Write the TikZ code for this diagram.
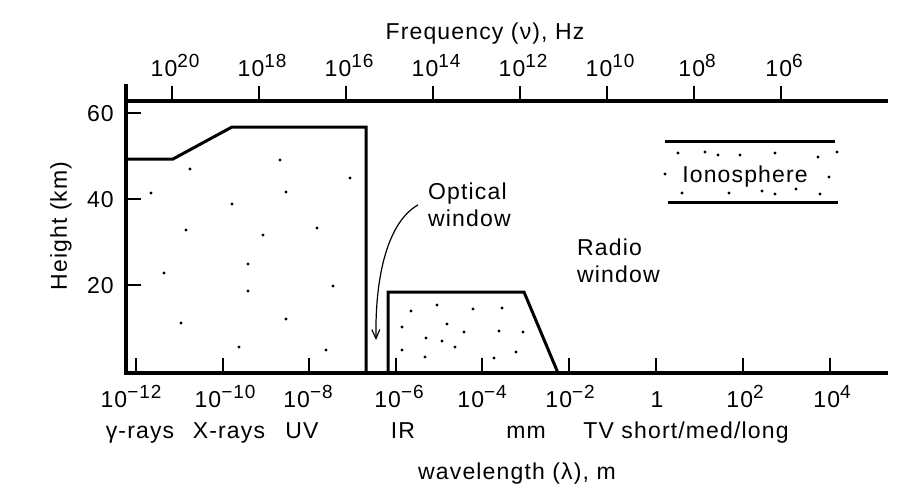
\documentclass[tikz,border=0pt]{standalone}
\usepackage{fontspec}
\setmainfont{Liberation Sans}[LetterSpace=5]
\usetikzlibrary{arrows.meta}
\newcommand{\tenpow}[1]{10\raisebox{8.5pt}{\fontsize{19}{19}\selectfont #1}}

\begin{document}
\begin{tikzpicture}[
        x=1pt, y=-1pt,
        axis/.style={line width=4pt},
        tick/.style={line width=2.5pt},
        wall/.style={line width=3pt, line join=miter},
        lbl/.style={inner sep=0pt, font=\fontsize{23}{26.5}\selectfont},
        arrow/.style={-{Straight Barb[length=9pt,width=8pt]}, line width=1.2pt}
    ]
    \useasboundingbox (0,0) rectangle (917,501);

    % Axes
    \draw[axis] (126,84) -- (126,375);
    \draw[axis] (124,373) -- (888,373);
    \draw[axis] (124,101) -- (888,101);

    % Frequency scale
    \foreach \x/\e in {172/20, 259/18, 346/16, 433/14, 520/12, 607/10, 694/8, 781/6}
    {
        \draw[tick] (\x,86) -- (\x,101);
        \node[lbl, anchor=base] (f\e) at (\x+3,76) {\tenpow{\e}};
    }
    \node[lbl, anchor=base] (freq) at (485,39) {Frequency (ν), Hz};

    % Height scale
    \foreach \y/\h in {113/60, 199/40, 285/20}
    {
        \draw[tick] (126,\y) -- (141,\y);
        \node[lbl, anchor=base east] (h\h) at (114,\y+8.5) {\h};
    }
    \node[lbl, rotate=90] (height) at (61,226) {Height (km)};

    % Wavelength scale
    \foreach \x/\lx/\e [count=\i] in {136/131/−12, 223/225/−10, 309/308/−8, 396/399/−6, 482/482/−4, 569/570/−2, 743/745/2, 830/832/4}
    {
        \draw[tick] (\x,358) -- (\x,373);
        \node[lbl, anchor=base] (w\i) at (\lx,407) {\tenpow{\e}};
    }
    \draw[tick] (656,358) -- (656,373);
    \node[lbl, anchor=base] (wone) at (657,407) {1};

    % Bands
    \node[lbl, anchor=base] (gamma) at (140,438) {γ-rays};
    \node[lbl, anchor=base] (xray) at (229,438) {X-rays};
    \node[lbl, anchor=base] (uv) at (302,438) {UV};
    \node[lbl, anchor=base] (ir) at (403,438) {IR};
    \node[lbl, anchor=base] (mm) at (526,438) {mm};
    \node[lbl, anchor=base] (radio) at (686,438) {TV short/med/long};
    \node[lbl, anchor=base] (wave) at (517,479) {wavelength (λ), m};

    % Opaque atmosphere
    \draw[wall] (126,159) -- (173,159) -- (232,127) -- (366,127) -- (366,373);
    \draw[wall] (388,373) -- (388,292) -- (524,292) -- (558,373);

    \foreach \x/\y in {151/193, 190/169, 280/160, 286/192, 350/178, 232/204, 186/230, 263/235,
        317/228, 164/273, 248/264, 248/291, 333/286, 181/323, 286/319, 239/347, 326/350}
        \fill (\x,\y) circle (1.7);
    \foreach \x/\y in {411/311, 437/305, 473/309, 502/308, 402/327, 447/324, 464/332, 499/331,
        523/332, 426/338, 442/341, 455/347, 402/350, 425/357, 494/358, 516/352}
        \fill (\x,\y) circle (1.7);

    % Ionosphere
    \draw[wall] (665,141) -- (835,141);
    \draw[wall] (668,202) -- (838,202);
    \node[lbl, anchor=base] (iono) at (745,182) {Ionosphere};
    \foreach \x/\y in {678/153, 705/152, 718/155, 740/155, 775/153, 818/157, 837/152, 665/174,
        829/177, 682/193, 729/193, 762/191, 775/194, 796/189, 820/194}
        \fill (\x,\y) circle (1.7);

    % Windows
    \node[lbl, anchor=north west, align=left] (optical) at (428,183) {Optical\\window};
    \node[lbl, anchor=north west, align=left] (radiowin) at (577,239) {Radio\\window};
    \coordinate (owin) at (376,340);
    \draw[arrow] ([xshift=-10pt]optical.west) .. controls (388,222) and (375,275) .. (owin);

\end{tikzpicture}
\end{document}
